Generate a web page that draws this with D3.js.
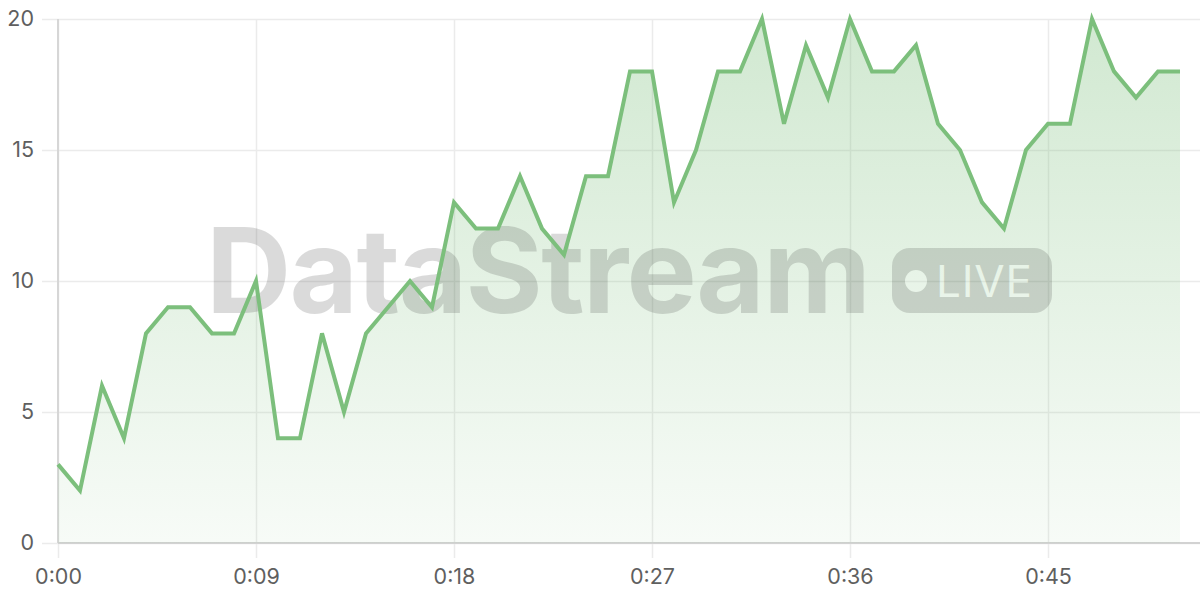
<!DOCTYPE html>
<html lang="en"><head><meta charset="UTF-8">
<script src="https://d3js.org/d3.v7.min.js"></script>
<style>
  body { margin: 0; background: #fff; }
  #chart { width: 1200px; height: 600px; }
  text { font-family: "Inter", "DejaVu Sans", sans-serif; }
</style>
</head>
<body>
<div id="chart"></div>
<script>
// seconds since start, one sample per second
const seconds = d3.range(0, 52);
const counts = [3, 2, 6, 4, 8, 9, 9, 8, 8, 10,
                4, 4, 8, 5, 8, 9, 10, 9, 13, 12,
                12, 14, 12, 11, 14, 14, 18, 18, 13, 15,
                18, 18, 20, 16, 19, 17, 20, 18, 18, 19,
                16, 15, 13, 12, 15, 16, 16, 20, 18, 17,
                18, 18];
const xTicks = [0, 9, 18, 27, 36, 45];
const yTicks = [0, 5, 10, 15, 20];

const width = 1200, height = 600;
const marginLeft = 58, marginTop = 19, marginBottom = 57;

const x = d3.scaleLinear().domain([0, 52]).range([marginLeft, marginLeft + 22 * 52]);
const y = d3.scaleLinear().domain([0, 20]).range([height - marginBottom, marginTop]);

const svg = d3.select("#chart").append("svg")
    .attr("width", width).attr("height", height)
    .attr("viewBox", [0, 0, width, height]);

const grad = svg.append("defs").append("linearGradient")
    .attr("id", "fill").attr("x1", 0).attr("x2", 0).attr("y1", 0).attr("y2", 1);
grad.append("stop").attr("offset", "0%").attr("stop-color", "#7cbf7c").attr("stop-opacity", 0.35);
grad.append("stop").attr("offset", "100%").attr("stop-color", "#7cbf7c").attr("stop-opacity", 0.06);

const fmt = s => `${Math.floor(s / 60)}:${String(s % 60).padStart(2, "0")}`;

// horizontal grid + y labels
svg.append("g")
    .attr("transform", `translate(${marginLeft},0)`)
    .call(d3.axisLeft(y).tickValues(yTicks).tickSize(16).tickPadding(8))
    .call(g => g.select(".domain").remove())
    .call(g => g.selectAll(".tick line").attr("stroke", "#ebebeb").attr("stroke-width", 1.5))
    .call(g => g.selectAll(".tick line").clone()
        .attr("x1", 0).attr("x2", width - marginLeft))
    .call(g => g.selectAll(".tick text").attr("fill", "#5f5f5f").attr("font-size", 21.5));

// vertical grid + x labels
svg.append("g")
    .attr("transform", `translate(0,${height - marginBottom})`)
    .call(d3.axisBottom(x).tickValues(xTicks).tickFormat(fmt).tickSize(15).tickPadding(11))
    .call(g => g.select(".domain").remove())
    .call(g => g.selectAll(".tick line").attr("stroke", "#ebebeb").attr("stroke-width", 1.5))
    .call(g => g.selectAll(".tick line").clone()
        .attr("y1", 0).attr("y2", -(height - marginBottom - marginTop)))
    .call(g => g.selectAll(".tick text").attr("fill", "#5f5f5f").attr("font-size", 21.5));

// axis lines
svg.append("line")
    .attr("x1", marginLeft).attr("x2", marginLeft)
    .attr("y1", marginTop).attr("y2", y(0))
    .attr("stroke", "#d6d6d6").attr("stroke-width", 2);
svg.append("line")
    .attr("x1", marginLeft).attr("x2", width)
    .attr("y1", y(0)).attr("y2", y(0))
    .attr("stroke", "#d2d2d2").attr("stroke-width", 2);

// area
svg.append("path")
    .datum(seconds)
    .attr("fill", "url(#fill)")
    .attr("d", d3.area().x(i => x(i)).y0(y(0)).y1(i => y(counts[i])));

// watermark
const wm = svg.append("g").attr("opacity", 0.16);
wm.append("text")
    .attr("x", 206).attr("y", 313)
    .attr("font-size", 118).attr("font-weight", 700)
    .attr("letter-spacing", -1.6)
    .attr("fill", "#222")
    .text("DataStream");
wm.append("rect")
    .attr("x", 892).attr("y", 248).attr("width", 160).attr("height", 65).attr("rx", 18)
    .attr("fill", "#222");
wm.append("circle").attr("cx", 916).attr("cy", 281).attr("r", 11).attr("fill", "#fff");
wm.append("text")
    .attr("x", 936).attr("y", 297)
    .attr("font-size", 44).attr("font-weight", 400)
    .attr("textLength", 96)
    .attr("fill", "#fff")
    .text("LIVE");

// line
svg.append("path")
    .datum(seconds)
    .attr("fill", "none")
    .attr("stroke", "#7cbf7c")
    .attr("stroke-width", 4)
    .attr("stroke-linejoin", "miter")
    .attr("d", d3.line().x(i => x(i)).y(i => y(counts[i])));
</script>
</body>
</html>
